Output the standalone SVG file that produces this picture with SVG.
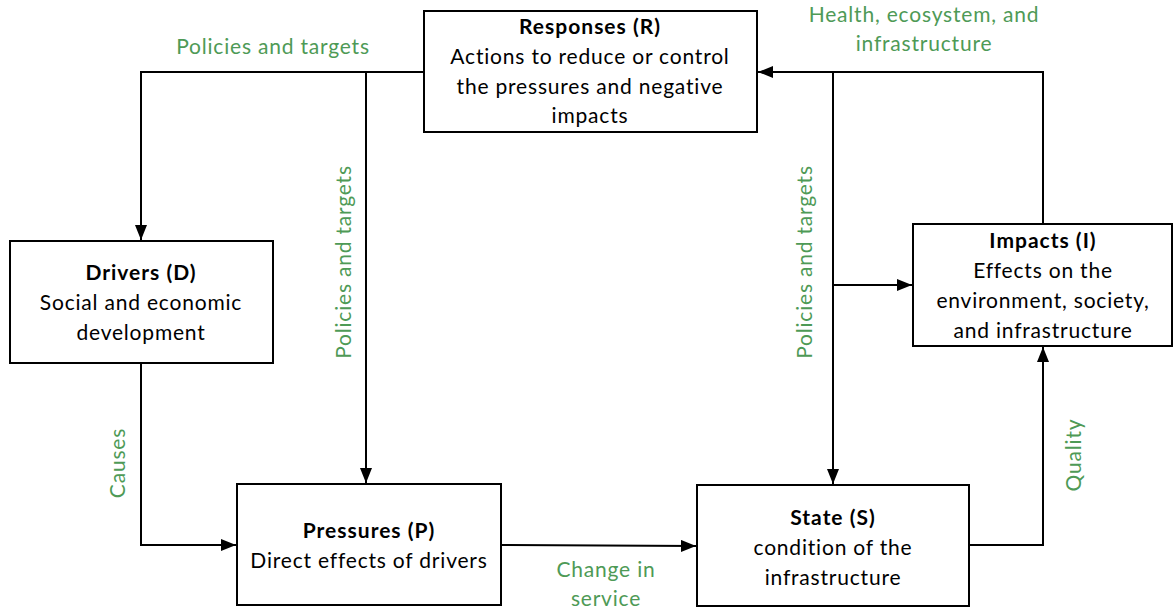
<svg xmlns="http://www.w3.org/2000/svg" width="1174" height="608" viewBox="0 0 1174 608">
<defs>
<marker id="arr" viewBox="0 0 15 12" refX="15" refY="6" markerWidth="15" markerHeight="12" markerUnits="userSpaceOnUse" orient="auto">
<path d="M0,0 L15,6 L0,12 Z" fill="#000"/>
</marker>
</defs>
<style>
.box{fill:#fff;stroke:#000;stroke-width:2}
.t{font-family:Lato,"Liberation Sans",sans-serif;font-size:21px;letter-spacing:0.8px;fill:#000;text-anchor:middle}
.b{font-weight:bold;letter-spacing:1px}
.g{font-family:Lato,"Liberation Sans",sans-serif;font-size:21px;letter-spacing:0.8px;fill:#4e9a56;text-anchor:middle}
.c{fill:none;stroke:#000;stroke-width:2}
</style>
<rect width="1174" height="608" fill="#fff"/>
<g id="connectors">
<polyline class="c" points="424,72 141,72 141,240" marker-end="url(#arr)"/>
<polyline class="c" points="366,72 366,483" marker-end="url(#arr)"/>
<polyline class="c" points="141,363 141,545 236,545" marker-end="url(#arr)"/>
<polyline class="c" points="501,545 696,546" marker-end="url(#arr)"/>
<polyline class="c" points="969,545 1043,545 1043,347" marker-end="url(#arr)"/>
<polyline class="c" points="1043,224 1043,72 758,72" marker-end="url(#arr)"/>
<polyline class="c" points="833,72 833,484" marker-end="url(#arr)"/>
<polyline class="c" points="833,285 912,285" marker-end="url(#arr)"/>
<text class="g" x="273" y="54">Policies and targets</text>
<text class="g" x="924" y="22">Health, ecosystem, and</text>
<text class="g" x="924" y="51">infrastructure</text>
<text class="g" transform="translate(351,262) rotate(-90)">Policies and targets</text>
<text class="g" transform="translate(812,262) rotate(-90)">Policies and targets</text>
<text class="g" transform="translate(125,463) rotate(-90)">Causes</text>
<text class="g" transform="translate(1081,455) rotate(-90)">Quality</text>
<text class="g" x="606" y="577">Change in</text>
<text class="g" x="606" y="606">service</text>
</g>
<g id="responses">
<rect class="box" x="424" y="11" width="333" height="121"/>
<text class="t b" x="590" y="34">Responses (R)</text>
<text class="t" x="590" y="64">Actions to reduce or control</text>
<text class="t" x="590" y="94">the pressures and negative</text>
<text class="t" x="590" y="123">impacts</text>
</g>
<g id="drivers">
<rect class="box" x="10" y="241" width="263" height="122"/>
<text class="t b" x="141" y="280">Drivers (D)</text>
<text class="t" x="141" y="310">Social and economic</text>
<text class="t" x="141" y="340">development</text>
</g>
<g id="impacts">
<rect class="box" x="913" y="224" width="259" height="122"/>
<text class="t b" x="1043" y="248">Impacts (I)</text>
<text class="t" x="1043" y="278">Effects on the</text>
<text class="t" x="1043" y="308">environment, society,</text>
<text class="t" x="1043" y="338">and infrastructure</text>
</g>
<g id="pressures">
<rect class="box" x="237" y="484" width="264" height="121"/>
<text class="t b" x="369" y="538">Pressures (P)</text>
<text class="t" x="369" y="568">Direct effects of drivers</text>
</g>
<g id="state">
<rect class="box" x="697" y="485" width="272" height="121"/>
<text class="t b" x="833" y="525">State (S)</text>
<text class="t" x="833" y="555">condition of the</text>
<text class="t" x="833" y="585">infrastructure</text>
</g>
</svg>
